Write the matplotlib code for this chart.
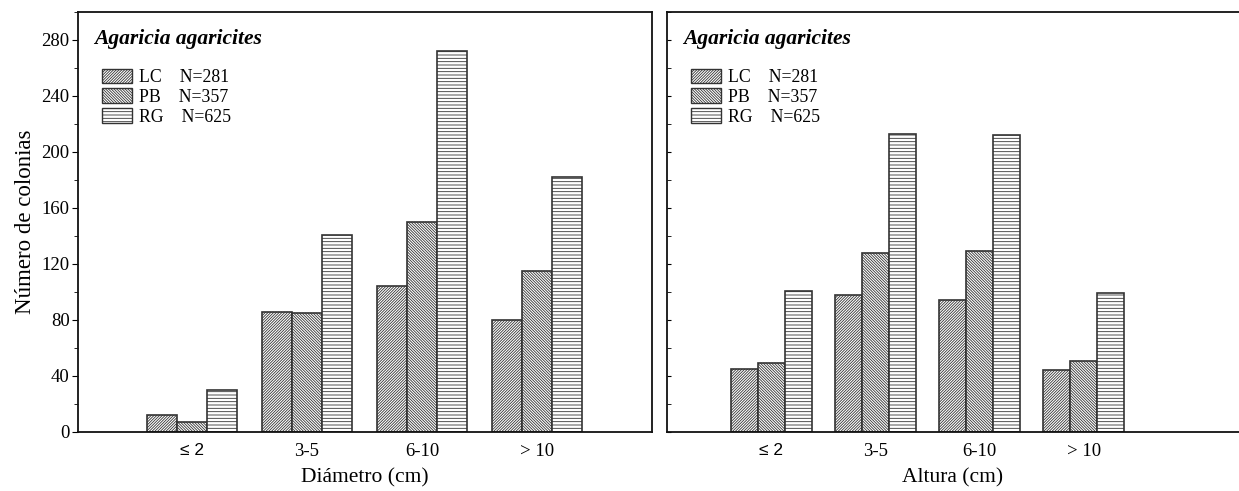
import matplotlib
matplotlib.use("Agg")
import matplotlib.pyplot as plt
from matplotlib.patches import Patch
from matplotlib.ticker import MultipleLocator
import numpy as np

plt.rcParams['font.family'] = ['Liberation Serif', 'DejaVu Serif']
plt.rcParams['hatch.linewidth'] = 0.6

categories = ['≤ 2', '3-5', '6-10', '> 10']
series = ['LC', 'PB', 'RG']
n_labels = ['N=281', 'N=357', 'N=625']
diam_LC = [12, 86, 104, 80]
diam_PB = [7, 85, 150, 115]
diam_RG = [30, 141, 272, 182]
alt_LC = [45, 98, 94, 44]
alt_PB = [49, 128, 129, 51]
alt_RG = [101, 213, 212, 99]
title = 'Agaricia agaricites'
ylabel = 'Número de colonias'
xlabels = ['Diámetro (cm)', 'Altura (cm)']

hatches = {'LC': '/' * 12, 'PB': '\\' * 12, 'RG': '-----'}
edge = '#333333'

fig = plt.figure(figsize=(12.39, 4.91), dpi=100)
ax1 = fig.add_axes([78/1239, 1-432/491, 574/1239, 420/491])
ax2 = fig.add_axes([667/1239, 1-432/491, 572/1239, 420/491])

w = 0.26
x = np.arange(len(categories))

def draw(ax, data, xlab, xlim, left_labels):
    for i, (s, vals) in enumerate(zip(series, data)):
        ax.bar(x + (i - 1) * w, vals, width=w, facecolor='white',
               edgecolor=edge, hatch=hatches[s], linewidth=1.2, zorder=2)
    ax.set_xlim(*xlim)
    ax.set_ylim(0, 300)
    ax.set_xticks(x)
    ax.set_xticklabels(categories, fontsize=13.5)
    ax.get_xticklabels()[0].set_family(['Liberation Sans', 'DejaVu Sans'])
    ax.get_xticklabels()[0].set_fontsize(12.5)
    ax.tick_params(axis='x', length=0, pad=8)
    ax.yaxis.set_major_locator(MultipleLocator(40))
    ax.yaxis.set_minor_locator(MultipleLocator(20))
    for sp in ax.spines.values():
        sp.set_linewidth(1.3)
        sp.set_color('#111111')
    if left_labels:
        ax.tick_params(axis='y', which='major', direction='out', length=4,
                       labelsize=13.5, pad=2)
        ax.tick_params(axis='y', which='minor', direction='out', length=3)
        ax.set_ylabel(ylabel, fontsize=16.5, labelpad=4)
    else:
        ax.tick_params(axis='y', which='both', direction='in', length=3,
                       labelleft=False)
        ax.spines['right'].set_visible(False)
    ax.set_xlabel(xlab, fontsize=15.5, labelpad=6)
    ax.text(0.028, 0.936, title, transform=ax.transAxes, fontsize=15.5,
            fontweight='bold', fontstyle='italic', va='center', ha='left')
    handles = [Patch(facecolor='white', edgecolor=edge, hatch=hatches[s],
                     linewidth=1.0) for s in series]
    labels = [f'{s}    {n}' for s, n in zip(series, n_labels)]
    ax.legend(handles, labels, loc='upper left', bbox_to_anchor=(0.042, 0.865),
              frameon=False, fontsize=12.8, handlelength=1.7,
              handleheight=0.9, labelspacing=0.12, handletextpad=0.4,
              borderpad=0, borderaxespad=0)

draw(ax1, [diam_LC, diam_PB, diam_RG], xlabels[0], (-0.99, 4.0), True)
draw(ax2, [alt_LC, alt_PB, alt_RG], xlabels[1], (-1.0, 4.49), False)

fig.savefig('out.png', dpi=100)
